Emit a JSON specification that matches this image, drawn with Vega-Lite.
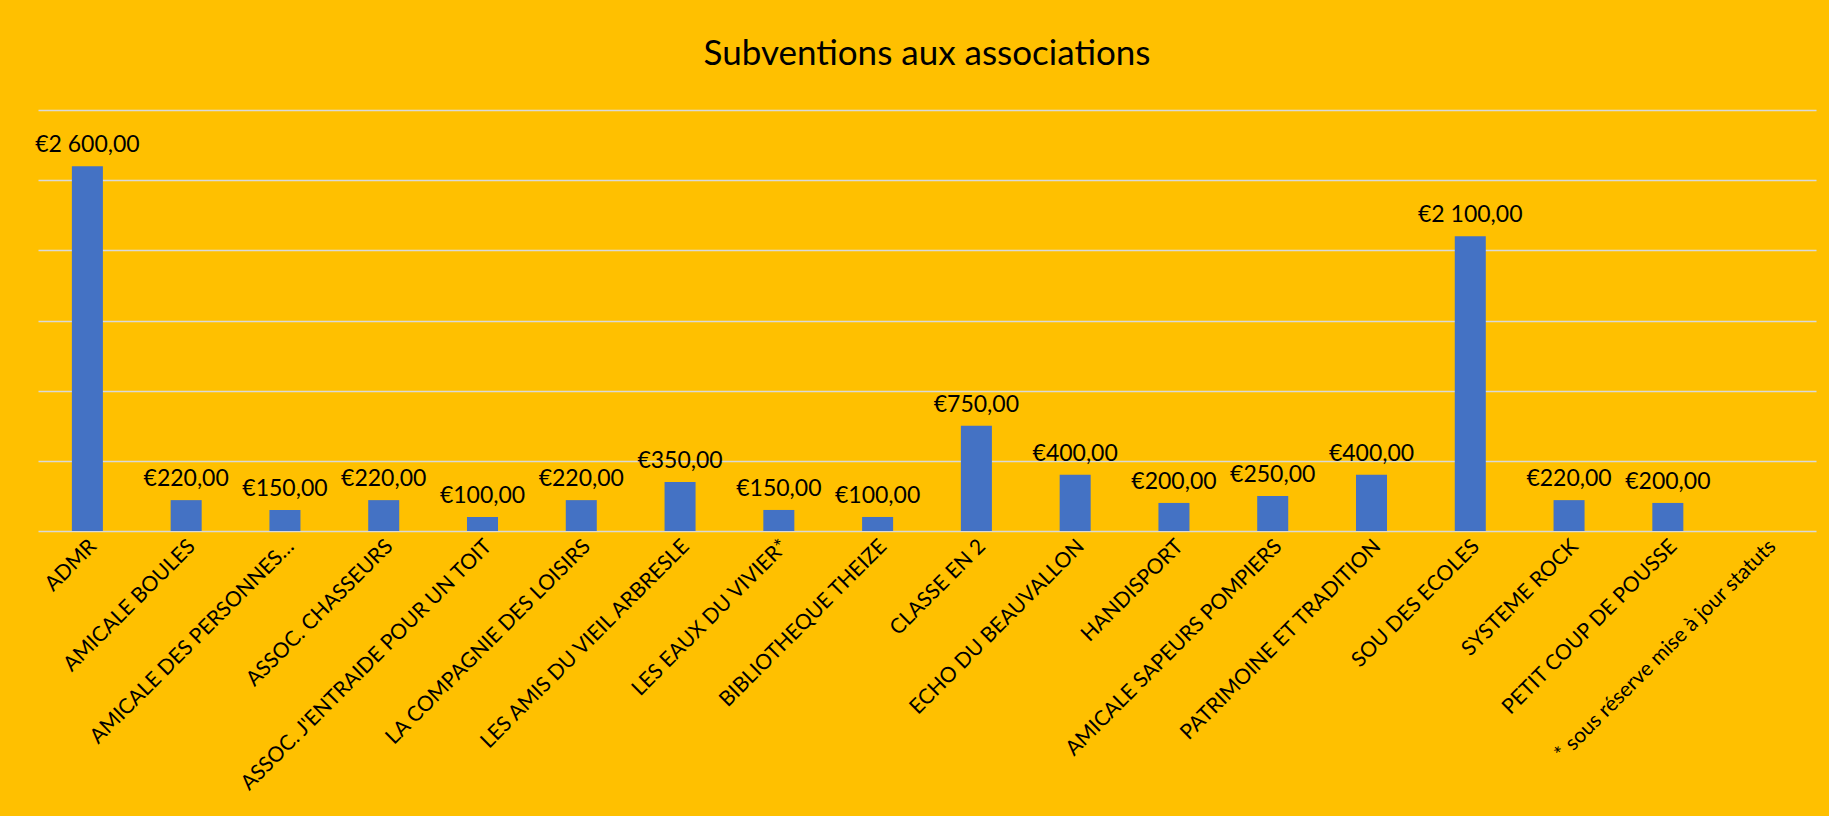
{
  "$schema": "https://vega.github.io/schema/vega-lite/v6.json",
  "autosize": {"type": "none"},
  "padding": {"left": 38, "top": 110, "right": 13, "bottom": 285},
  "width": 1778,
  "height": 421,
  "background": "#FFC000",
  "title": {
    "text": "Subventions aux associations",
    "font": "Lato",
    "fontSize": 35,
    "fontWeight": "normal",
    "color": "#000000",
    "anchor": "middle",
    "offset": 38
  },
  "data": {
    "values": [
      {"association": "ADMR", "montant": 2600},
      {"association": "AMICALE BOULES", "montant": 220},
      {"association": "AMICALE DES PERSONNES…", "montant": 150},
      {"association": "ASSOC. CHASSEURS", "montant": 220},
      {"association": "ASSOC. J'ENTRAIDE POUR UN TOIT", "montant": 100},
      {"association": "LA COMPAGNIE DES LOISIRS", "montant": 220},
      {"association": "LES AMIS DU VIEIL ARBRESLE", "montant": 350},
      {"association": "LES EAUX DU VIVIER*", "montant": 150},
      {"association": "BIBLIOTHEQUE THEIZE", "montant": 100},
      {"association": "CLASSE EN 2", "montant": 750},
      {"association": "ECHO DU BEAUVALLON", "montant": 400},
      {"association": "HANDISPORT", "montant": 200},
      {"association": "AMICALE SAPEURS POMPIERS", "montant": 250},
      {"association": "PATRIMOINE ET TRADITION", "montant": 400},
      {"association": "SOU DES ECOLES", "montant": 2100},
      {"association": "SYSTEME ROCK", "montant": 220},
      {"association": "PETIT COUP DE POUSSE", "montant": 200},
      {"association": "* sous réserve mise à jour statuts", "montant": null}
    ]
  },
  "encoding": {
    "x": {
      "field": "association",
      "type": "nominal",
      "sort": null,
      "scale": {
        "domain": [
          "ADMR",
          "AMICALE BOULES",
          "AMICALE DES PERSONNES…",
          "ASSOC. CHASSEURS",
          "ASSOC. J'ENTRAIDE POUR UN TOIT",
          "LA COMPAGNIE DES LOISIRS",
          "LES AMIS DU VIEIL ARBRESLE",
          "LES EAUX DU VIVIER*",
          "BIBLIOTHEQUE THEIZE",
          "CLASSE EN 2",
          "ECHO DU BEAUVALLON",
          "HANDISPORT",
          "AMICALE SAPEURS POMPIERS",
          "PATRIMOINE ET TRADITION",
          "SOU DES ECOLES",
          "SYSTEME ROCK",
          "PETIT COUP DE POUSSE",
          "* sous réserve mise à jour statuts"
        ],
        "paddingInner": 0.686,
        "paddingOuter": 0.343
      },
      "axis": {
        "title": null,
        "domain": false,
        "ticks": false,
        "labelAngle": -45,
        "labelAlign": "right",
        "labelBaseline": "middle",
        "labelPadding": 12,
        "labelOffset": 6,
        "labelFont": "Lato",
        "labelFontSize": 21,
        "labelColor": "#000000",
        "labelLimit": 600
      }
    },
    "y": {
      "field": "montant",
      "type": "quantitative",
      "scale": {"domain": [0, 3000], "nice": false},
      "axis": {
        "title": null,
        "labels": false,
        "ticks": false,
        "domain": false,
        "grid": true,
        "values": [0, 500, 1000, 1500, 2000, 2500, 3000],
        "gridColor": "#D9D9D9",
        "gridWidth": 1.5
      }
    }
  },
  "layer": [
    {
      "mark": {"type": "bar", "color": "#4472C4"}
    },
    {
      "transform": [{"filter": "datum.montant != null"}],
      "mark": {
        "type": "text",
        "font": "Lato",
        "fontSize": 23,
        "color": "#000000",
        "baseline": "bottom",
        "dy": -9
      },
      "encoding": {
        "text": {"field": "montant", "type": "quantitative", "format": "$,.2f"}
      }
    }
  ],
  "config": {
    "locale": {
      "number": {
        "decimal": ",",
        "thousands": " ",
        "grouping": [3],
        "currency": ["€", ""]
      }
    },
    "view": {"stroke": null}
  }
}
